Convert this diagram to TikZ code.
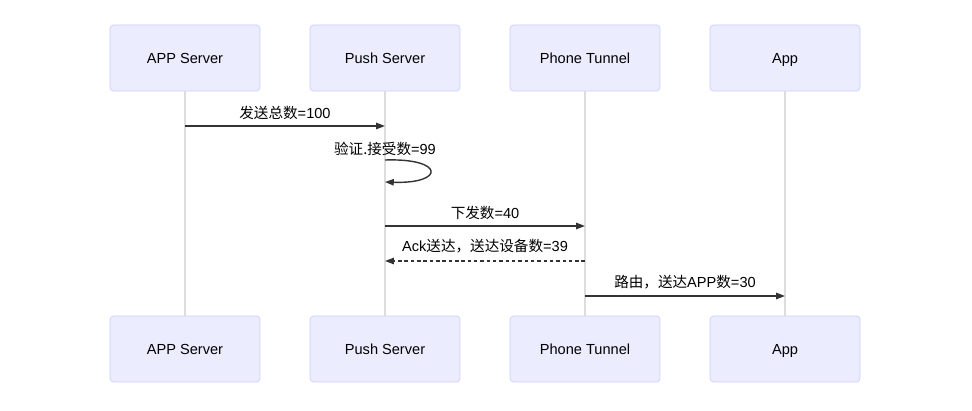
\documentclass[tikz,border=0pt]{standalone}
\usepackage{fontspec}
\setmainfont{Liberation Sans}
\newfontfamily\cjk{Noto Sans CJK SC}
\usetikzlibrary{arrows.meta}

\definecolor{actorfill}{HTML}{ECECFF}
\definecolor{actordraw}{HTML}{CCCCFF}
\definecolor{lifegray}{HTML}{DDDDDD}
\definecolor{msggray}{HTML}{333333}

\begin{document}
\begin{tikzpicture}[x=0.02cm, y=-0.02cm,
		every node/.append style={font=\fontsize{8.3}{10}\selectfont}]
	\useasboundingbox (0,0) rectangle (972,411);
	\begin{scope}[every node/.style = {draw=actordraw, fill=actorfill, rounded corners=2pt,
		minimum width=3cm, minimum height=1.32cm, text height=1.6ex, text depth=0.4ex,
		font=\fontsize{8.3}{10}\selectfont}]
		\node (ast) at (185,58) {APP Server};
		\node (pst) at (385,58) {Push Server};
		\node (ptt) at (585,58) {Phone Tunnel};
		\node (apt) at (785,58) {App};
		\node (asb) at (185,349) {APP Server};
		\node (psb) at (385,349) {Push Server};
		\node (ptb) at (585,349) {Phone Tunnel};
		\node (apb) at (785,349) {App};
	\end{scope}
	% lifelines
	\begin{scope}[every path/.style={draw=lifegray, line width=1pt}]
		\path (ast) -- (asb);
		\path (pst) -- (psb);
		\path (ptt) -- (ptb);
		\path (apt) -- (apb);
	\end{scope}
	% message end points
	\coordinate (m1a) at (185,126);
	\coordinate (m1b) at (385,126);
	\coordinate (m2a) at (385,160);
	\coordinate (m2b) at (385,182);
	\coordinate (m3a) at (385,226);
	\coordinate (m3b) at (585,226);
	\coordinate (m4a) at (585,261);
	\coordinate (m4b) at (385,261);
	\coordinate (m5a) at (585,296);
	\coordinate (m5b) at (785,296);
	\begin{scope}[>={Triangle[length=5pt, width=3.6pt]},
			every path/.style={draw=msggray, fill=none, line width=0.8pt},
			every node/.style={fill=none, font=\fontsize{8.3}{10}\selectfont, text=black}]
		\draw [->] (m1a) -- node[above=0pt] {{\cjk 发送总数}=100} (m1b);
		\node at (385,149) {{\cjk 验证.接受数}=99};
		\draw [->] (m2a) .. controls (445,158) and (445,184) .. (m2b);
		\draw [->] (m3a) -- node[above=0pt] {{\cjk 下发数}=40} (m3b);
		\draw [->, dash pattern=on 2pt off 1.6pt] (m4a) -- node[above=1pt] {Ack{\cjk 送达，送达设备数}=39} (m4b);
		\draw [->] (m5a) -- node[above=0pt] {{\cjk 路由，送达}APP{\cjk 数}=30} (m5b);
	\end{scope}
\end{tikzpicture}
\end{document}
